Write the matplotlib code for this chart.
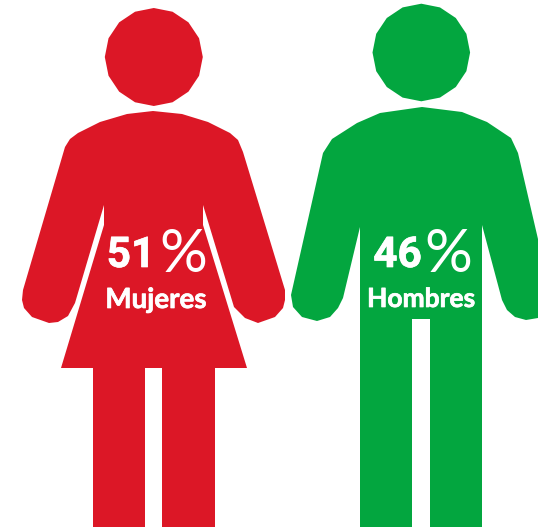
import matplotlib
matplotlib.use('Agg')
import matplotlib.pyplot as plt
import matplotlib.patheffects as pe
from matplotlib.patches import Polygon, RegularPolygon

# data
labels = ['Mujeres', 'Hombres']
values = [51, 46]
colors = ['#DC1726', '#03A63F']

# silhouettes, traced in image pixels
mujer = [(153, 111), (182, 114), (208, 122), (230, 133), (238, 140), (243, 152), (285, 290), (285, 300),
         (283, 308), (275, 317), (258, 323), (245, 318), (234, 307), (203, 205), (203, 225), (247, 368),
         (215, 368), (215, 530), (162, 530), (162, 368), (145, 368), (145, 530), (93, 530), (93, 368),
         (61, 368), (104, 225), (104, 205), (75, 303), (68, 316), (58, 322), (49, 323), (32, 317),
         (24, 308), (22, 300), (23, 290), (65, 147), (70, 139), (78, 133), (100, 122), (127, 114)]
hombre = [(422, 107), (462, 112), (487, 122), (511, 138), (518, 153), (551, 295), (551, 305), (538, 318),
          (526, 320), (515, 317), (507, 310), (502, 300), (482, 225), (482, 530), (430, 530), (430, 319),
          (412, 319), (412, 530), (360, 530), (360, 227), (343, 298), (338, 308), (330, 317), (317, 321),
          (302, 317), (293, 307), (291, 295), (323, 153), (332, 139), (357, 123), (380, 113)]
cabezas = [(153.8, 57, 49), (421.3, 52.5, 48.8)]

fig = plt.figure(figsize=(5.38, 5.27), dpi=100)
ax = fig.add_axes([0, 0, 1, 1])
ax.set_xlim(0, 538)
ax.set_ylim(527, 0)
ax.axis('off')

for cuerpo, cabeza, color in zip([mujer, hombre], cabezas, colors):
    ax.add_patch(Polygon(cuerpo, closed=True, fc=color, ec='none'))
    ax.add_patch(RegularPolygon(cabeza[:2], 16, radius=cabeza[2], fc=color, ec='none'))

grueso = [pe.withStroke(linewidth=0.5, foreground='white')]
pos_num = [(131, 267), (397.5, 267)]
pos_pct = [(183, 272), (448, 272)]
pos_lab = [(156, 308), (421, 307)]
tam_lab = [20, 19]
for lab, val, pn, pp, pl, tl in zip(labels, values, pos_num, pos_pct, pos_lab, tam_lab):
    ax.text(pn[0], pn[1], str(val), color='white', family='Roboto', weight='bold', fontsize=30.5,
            ha='center', va='baseline', path_effects=grueso)
    ax.text(pp[0], pp[1], '%', color='white', family=['Liberation Sans Narrow', 'Lato'], fontsize=43,
            ha='center', va='baseline')
    ax.text(pl[0], pl[1], lab, color='white', family='Lato', weight='bold', fontsize=tl,
            ha='center', va='baseline', path_effects=grueso)

fig.savefig('out.png', dpi=100)
